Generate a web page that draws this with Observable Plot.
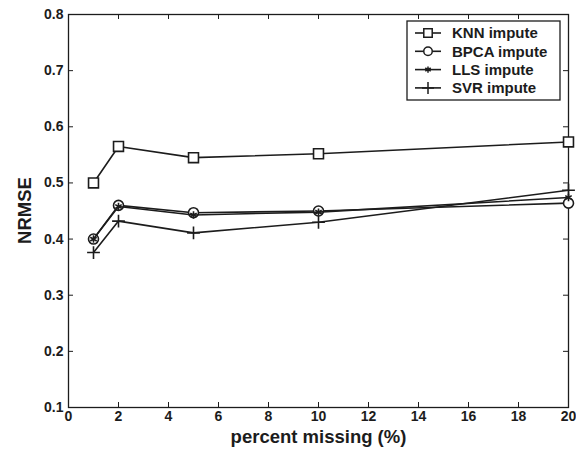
<!DOCTYPE html>
<html><head><meta charset="utf-8">
<script src="https://cdn.jsdelivr.net/npm/d3@7"></script>
<script src="https://cdn.jsdelivr.net/npm/@observablehq/plot@0.6"></script>
<style>body{margin:0;background:#fff}</style>
</head><body><div id="chart"></div>
<script>
const percentMissing = [1, 2, 5, 10, 20];
const knn  = [0.500, 0.565, 0.545, 0.552, 0.573];
const bpca = [0.400, 0.460, 0.447, 0.450, 0.464];
const lls  = [0.400, 0.458, 0.443, 0.448, 0.474];
const svr  = [0.376, 0.432, 0.411, 0.430, 0.487];
const seriesNames = ["KNN impute", "BPCA impute", "LLS impute", "SVR impute"];
const seriesSymbols = ["square", "circle", "asterisk", "plus"];
const seriesR = [5.6, 5, 3.5, 4.2];
const xTicks = [0, 2, 4, 6, 8, 10, 12, 14, 16, 18, 20];
const yTicks = [0.1, 0.2, 0.3, 0.4, 0.5, 0.6, 0.7, 0.8];
const xLabel = "percent missing (%)";
const yLabel = "NRMSE";

const allSeries = [knn, bpca, lls, svr];
const rows = [];
allSeries.forEach((vals, si) => vals.forEach((v, i) => rows.push({series: seriesNames[si], x: percentMissing[i], y: v, si})));

const W = 576, H = 453, mL = 68, mR = 8, mT = 14, mB = 46;
const iW = W - mL - mR, iH = H - mT - mB;
const ink = "#1c1c1c";

const marks = [
  Plot.frame({stroke: ink, strokeWidth: 1.3}),
  Plot.tickX(xTicks, {x: d => d, insetTop: iH - 5, stroke: ink}),
  Plot.tickX(xTicks, {x: d => d, insetBottom: iH - 5, stroke: ink}),
  Plot.tickY(yTicks, {y: d => d, insetRight: iW - 5, stroke: ink}),
  Plot.tickY(yTicks, {y: d => d, insetLeft: iW - 5, stroke: ink}),
  Plot.axisX({ticks: xTicks, tickSize: 0, tickPadding: 4, label: null, fontSize: 14, tickFormat: d => d3.format("d")(d)}),
  Plot.axisY({ticks: yTicks, tickSize: 0, tickPadding: 5, label: null, fontSize: 14, tickFormat: d3.format(".1f")}),
  Plot.text([xLabel], {frameAnchor: "bottom", dy: 35, fontSize: 18.5, fontWeight: "bold", fill: ink}),
];
seriesNames.forEach((name, si) => {
  const d = rows.filter(r => r.si === si);
  marks.push(Plot.line(d, {x: "x", y: "y", stroke: ink, strokeWidth: 1.6}));
  marks.push(Plot.dot(d, {x: "x", y: "y", symbol: () => seriesSymbols[si], r: seriesR[si], stroke: ink, strokeWidth: 1.6, fill: si < 2 ? "white" : "none"}));
});

const chart = Plot.plot({
  width: W, height: H,
  marginLeft: mL, marginRight: mR, marginTop: mT, marginBottom: mB,
  x: {domain: [0, 20]},
  y: {domain: [0.1, 0.8]},
  style: {fontFamily: "Liberation Sans, Arial, sans-serif", fontSize: "14px", fontWeight: "bold", color: ink, background: "white"},
  marks
});
document.getElementById("chart").appendChild(chart);

const svg = d3.select(chart);
// y-axis title
svg.append("text").attr("transform", `translate(25,${mT + iH / 2}) rotate(-90)`)
  .attr("text-anchor", "middle").attr("dy", "0.35em").attr("font-size", 18.5).attr("font-weight", "bold").attr("fill", ink).text(yLabel);

// Legend drawn inside the plot area
const lg = svg.append("g").attr("transform", "translate(407,21)").attr("text-anchor", "start");
lg.append("rect").attr("width", 153).attr("height", 79).attr("fill", "white").attr("stroke", ink).attr("stroke-width", 1.3);
const symType = {square: d3.symbolSquare, circle: d3.symbolCircle, asterisk: d3.symbolAsterisk};
seriesNames.forEach((name, i) => {
  const y = 12 + i * 18.3;
  lg.append("line").attr("x1", 8).attr("x2", 34).attr("y1", y).attr("y2", y).attr("stroke", ink).attr("stroke-width", 1.6);
  const s = seriesSymbols[i];
  let path;
  if (s === "plus") {
    const r = 6;
    path = `M${-r},0H${r}M0,${-r}V${r}`;
  } else {
    path = d3.symbol(symType[s], Math.PI * (seriesR[i] * 0.85) ** 2)();
  }
  lg.append("path").attr("d", path).attr("transform", `translate(21,${y})`).attr("fill", i < 2 ? "white" : "none").attr("stroke", ink).attr("stroke-width", 1.5);
  lg.append("text").attr("x", 45).attr("y", y).attr("dy", "0.36em").attr("text-anchor", "start").attr("font-size", 15).attr("font-weight", "bold").attr("fill", ink).text(name);
});
</script>
</body></html>
